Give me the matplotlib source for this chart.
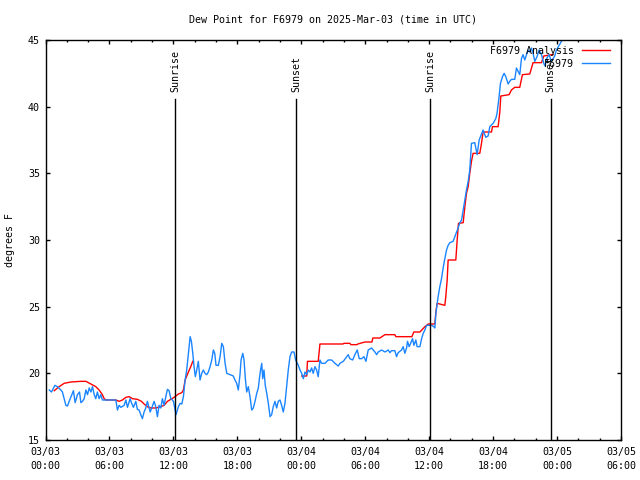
#!/usr/bin/env python3
"""Dew point trace for station F6979 with analysis overlay and sun events."""

import matplotlib

matplotlib.use("Agg")
import matplotlib.pyplot as plt
import numpy as np

# hours since 03/03 00:00 UTC, dew point in degrees F (station observations)
obs_hours = [
    0.35, 0.56, 0.88, 1.12, 1.44, 1.59, 1.91, 2.06, 2.32, 2.62, 2.78, 3.00, 3.19, 3.32,
    3.47, 3.63, 3.79, 3.94, 4.10, 4.26, 4.41, 4.57, 4.72, 4.87, 5.03, 5.19, 5.34, 5.50,
    6.60, 6.75, 6.91, 7.07, 7.38, 7.54, 7.69, 7.94, 8.06, 8.25, 8.47, 8.62, 8.78, 8.94,
    9.09, 9.25, 9.41, 9.56, 9.82, 9.97, 10.19, 10.35, 10.50, 10.66, 10.82, 10.97, 11.13,
    11.29, 11.44, 11.60, 11.76, 11.91, 12.00, 12.25, 12.47, 12.63, 12.79, 12.94, 13.10,
    13.25, 13.41, 13.57, 13.69, 13.82, 13.94, 14.06, 14.19, 14.34, 14.50, 14.66, 14.81,
    14.97, 15.13, 15.28, 15.44, 15.60, 15.75, 15.88, 16.00, 16.22, 16.38, 16.54, 16.69,
    16.85, 17.01, 17.32, 17.62, 17.78, 17.94, 18.09, 18.25, 18.35, 18.51, 18.63, 18.75,
    18.88, 19.03, 19.19, 19.35, 19.50, 19.66, 19.82, 19.97, 20.13, 20.29, 20.38, 20.50,
    20.62, 20.76, 20.91, 21.07, 21.22, 21.37, 21.53, 21.69, 21.84, 22.00, 22.16, 22.31,
    22.47, 22.63, 22.78, 22.94, 23.10, 23.32, 23.47, 23.72, 23.88, 24.04, 24.19, 24.35,
    24.51, 24.66, 24.82, 24.97, 25.12, 25.28, 25.44, 25.59, 25.75, 25.91, 26.22, 26.53,
    26.85, 27.16, 27.47, 27.63, 27.94, 28.26, 28.41, 28.56, 28.82, 29.03, 29.25, 29.44,
    29.66, 29.88, 30.07, 30.28, 30.60, 30.91, 31.07, 31.22, 31.54, 31.85, 32.16, 32.32,
    32.47, 32.78, 32.94, 33.09, 33.41, 33.56, 33.72, 33.88, 33.97, 34.12, 34.26, 34.44,
    34.57, 34.75, 34.87, 35.13, 35.29, 35.44, 35.60, 35.76, 36.22, 36.44, 36.53, 36.63,
    36.84, 37.00, 37.16, 37.31, 37.47, 37.63, 37.78, 37.94, 38.25, 38.41, 38.57, 38.72,
    38.88, 39.04, 39.19, 39.35, 39.50, 39.66, 39.81, 39.97, 40.28, 40.50, 40.69, 41.06,
    41.31, 41.53, 41.69, 42.00, 42.25, 42.37, 42.56, 42.69, 42.88, 43.03, 43.19, 43.41,
    43.56, 43.72, 44.03, 44.19, 44.34, 44.50, 44.66, 44.81, 44.97, 45.13, 45.28, 45.44,
    45.60, 45.75, 45.91, 46.12, 46.31, 46.54, 46.75, 46.87, 47.01, 47.25, 47.47, 47.62,
    47.78, 47.94, 48.19, 48.41, 48.56, 48.88,
]
obs_dewpt = [
    18.75, 18.6, 19.1, 19.0, 18.75, 18.6, 17.6, 17.55, 18.1, 18.7, 17.8, 18.4, 18.6, 17.8,
    17.9, 18.1, 18.75, 18.4, 18.9, 18.6, 19.0, 18.4, 18.1, 18.6, 18.1, 18.4, 18.0, 18.0,
    18.0, 17.25, 17.6, 17.45, 17.6, 18.0, 17.45, 18.1, 17.8, 17.45, 17.9, 17.3, 17.25, 16.9,
    16.6, 17.1, 17.4, 17.9, 17.1, 17.4, 17.9, 17.5, 16.75, 17.6, 17.4, 18.1, 17.6,
    18.25, 18.8, 18.7, 18.1, 18.0, 17.9, 16.9, 17.5, 17.75, 17.7, 18.25, 19.5,
    20.25, 21.5, 22.75, 22.4, 21.5, 20.5, 19.75, 20.25, 20.9, 19.5, 20.0, 20.25,
    20.0, 19.9, 20.1, 20.5, 21.0, 21.75, 21.5, 20.6, 20.6, 21.25, 22.25, 22.0,
    20.75, 20.0, 19.9, 19.8, 19.5, 19.25, 18.75, 19.9, 21.0, 21.5, 21.0, 19.6,
    18.6, 19.0, 18.25, 17.25, 17.4, 17.9, 18.5, 18.9, 20.0, 20.75, 19.6, 20.25,
    19.1, 18.5, 17.75, 16.75, 16.9, 17.5, 17.9, 17.4, 17.9, 18.0, 17.6, 17.1,
    17.75, 19.0, 20.25, 21.25, 21.6, 21.6, 21.0, 20.6, 20.25, 20.0, 19.6, 20.1,
    19.9, 20.25, 20.1, 20.4, 20.0, 20.5, 20.25, 19.75, 21.0, 20.75, 20.75, 21.0,
    21.0, 20.75, 20.55, 20.75, 20.9, 21.25, 21.4, 21.1, 21.0, 21.4, 21.75, 21.1,
    21.1, 21.25, 20.9, 21.75, 21.9, 21.6, 21.4, 21.6, 21.75, 21.6, 21.75, 21.55,
    21.7, 21.7, 21.25, 21.55, 21.75, 22.0, 21.5, 21.9, 22.4, 22.0, 22.25, 22.6,
    22.1, 22.5, 22.0, 22.0, 22.6, 23.0, 23.25, 23.6, 23.6, 23.5, 23.4, 24.5,
    25.75, 26.5, 27.1, 27.9, 28.6, 29.25, 29.6, 29.8, 29.9, 30.25, 30.6, 30.9,
    31.3, 31.5, 32.25, 33.0, 33.75, 34.4, 35.25, 37.25, 37.3, 36.4, 37.5, 38.25,
    37.7, 37.8, 38.5, 38.75, 39.1, 39.5, 40.75, 41.75, 42.25, 42.5, 42.25, 41.7,
    41.9, 42.05, 42.05, 42.9, 42.65, 42.4, 43.6, 43.9, 43.5, 43.9, 44.25, 44.1,
    44.4, 44.0, 43.4, 43.75, 44.25, 43.9, 43.25, 43.05, 43.6, 43.9, 43.4, 43.6,
    43.8, 44.25, 44.6, 44.9, 45.05, 45.4,
]

# analysis series; NaN marks the gap in the analysis record
ana_hours = [
    0.82, 1.28, 1.75, 2.38, 3.32, 3.79, 4.26, 4.72, 5.03, 5.34, 5.50, 5.66, 6.60, 6.91,
    7.22, 7.54, 7.85, 8.16, 8.62, 9.00, 9.25, 9.56, 9.88, 10.35, 10.82, 11.13, 11.44,
    11.76, 12.07, 12.47, 12.79, 12.94, 13.10, 13.41, 13.63, 13.82, 18.0,
    24.04, 24.51, 24.58, 25.59, 25.75, 27.91, 28.00, 28.56, 28.66, 29.22, 29.31, 29.97,
    30.63, 30.72, 31.38, 31.85, 32.78, 32.88, 34.38, 34.56, 35.13, 35.60, 35.91, 36.53,
    36.63, 36.75, 37.47, 37.56, 37.69, 37.78, 38.50, 38.62, 38.75, 39.19, 39.35, 39.50,
    39.66, 39.81, 39.97, 40.12, 40.75, 40.91, 41.06, 41.85, 41.94, 42.47, 42.63, 42.72,
    43.50, 43.72, 44.03, 44.50, 44.75, 45.44, 45.75, 46.54, 46.75, 47.47, 47.62,
]
ana_dewpt = [
    18.7, 19.0, 19.25, 19.35, 19.4, 19.4, 19.2, 19.0, 18.75, 18.4, 18.1, 18.0, 18.0, 17.9,
    18.0, 18.2, 18.25, 18.1, 18.05, 17.9, 17.7, 17.5, 17.4, 17.4, 17.5, 17.6, 17.9,
    18.05, 18.2, 18.45, 18.55, 18.75, 19.5, 20.1, 20.5, 20.9, np.nan,
    19.8, 19.8, 20.9, 20.9, 22.2, 22.2, 22.25, 22.25, 22.15, 22.15, 22.2, 22.35,
    22.35, 22.65, 22.65, 22.9, 22.9, 22.75, 22.75, 23.1, 23.1, 23.5, 23.7, 23.7,
    24.6, 25.25, 25.1, 25.75, 27.0, 28.5, 28.5, 29.9, 31.25, 31.3, 32.5, 33.5,
    34.0, 35.0, 35.9, 36.5, 36.5, 37.25, 38.1, 38.1, 38.5, 38.5, 39.6, 40.8,
    40.9, 41.25, 41.45, 41.45, 42.4, 42.45, 43.3, 43.3, 43.8, 43.9, 43.9,
]

sun_hours = [12.16, 23.53, 36.1, 47.42]
sun_labels = ["Sunrise", "Sunset", "Sunrise", "Sunset"]

xtick_hours = [0, 6, 12, 18, 24, 30, 36, 42, 48, 54]
xtick_labels = [
    "03/03\n00:00", "03/03\n06:00", "03/03\n12:00", "03/03\n18:00",
    "03/04\n00:00", "03/04\n06:00", "03/04\n12:00", "03/04\n18:00",
    "03/05\n00:00", "03/05\n06:00",
]

FONT = "DejaVu Sans Mono"
FS = 7.2


def main() -> None:
    plt.rcParams["font.family"] = FONT
    plt.rcParams["font.size"] = FS

    fig = plt.figure(figsize=(6.4, 4.8), dpi=100)
    ax = fig.add_axes([45.5 / 640, 40 / 480, 575.5 / 640, 400 / 480])

    ax.plot(ana_hours, ana_dewpt, color="#ff0000", lw=1.0, label="F6979 Analysis")
    ax.plot(obs_hours, obs_dewpt, color="#1a85ff", lw=1.0, label="F6979")

    for h, lab in zip(sun_hours, sun_labels):
        ax.axvline(h, ymin=0, ymax=0.8525, color="black", lw=1.0)
        ax.text(h, 0.87, lab, rotation=90, ha="center", va="bottom",
                transform=ax.get_xaxis_transform(), fontsize=FS)

    ax.set_xlim(0, 54)
    ax.set_ylim(15, 45)
    ax.set_xticks(xtick_hours)
    ax.set_xticklabels(xtick_labels, linespacing=1.5)
    ax.set_xticks(np.arange(0, 55, 2), minor=True)
    ax.set_yticks(np.arange(15, 46, 5))

    ax.tick_params(which="both", direction="in", top=True, right=True, width=1.0)
    ax.tick_params(which="major", length=3.2)
    ax.tick_params(which="minor", length=1.7)
    ax.tick_params(axis="x", pad=5)
    ax.tick_params(axis="y", pad=4)
    for sp in ax.spines.values():
        sp.set_linewidth(1.0)

    ax.set_ylabel("degrees F")
    ax.yaxis.set_label_coords((15 - 45.5) / 575.5, 0.5)

    fig.text(333 / 640, 1 - 19 / 480, "Dew Point for F6979 on 2025-Mar-03 (time in UTC)",
             ha="center", va="center", fontsize=FS)

    ax.legend(loc="upper right", bbox_to_anchor=((610 - 45.5) / 575.5, (440 - 46) / 400),
              frameon=False, markerfirst=False, handlelength=2.8, handletextpad=0.8,
              borderpad=0, borderaxespad=0, labelspacing=0.3, fontsize=FS)

    fig.savefig("out.png", dpi=100)


if __name__ == "__main__":
    main()
